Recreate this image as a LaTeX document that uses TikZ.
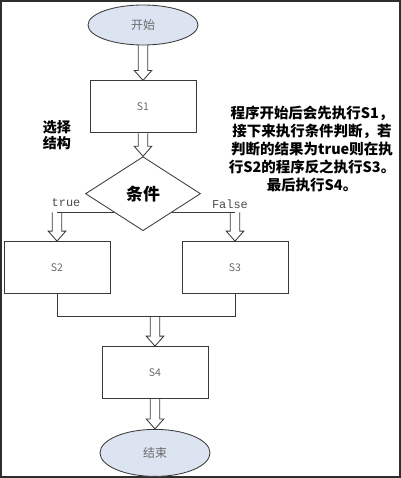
\documentclass[tikz,border=0pt]{standalone}
\usepackage{fontspec}
\usepackage{xcolor}
\usepackage{tikz}
\usetikzlibrary{shapes.geometric,positioning,calc}
\newfontfamily\cjk{Noto Sans CJK SC}
\newfontfamily\mono{Liberation Mono}
\definecolor{FrameGray}{HTML}{2E2E2E}
\definecolor{LineGray}{HTML}{3A3A3A}
\definecolor{SoftLilac}{HTML}{DCE3F1}
\definecolor{TextGray}{HTML}{6A6A6A}
\tikzset{
  % Terminal (start / end)
  TE/.style={ellipse,draw=LineGray,fill=SoftLilac,line width=0.6pt,
             minimum width=2.75cm,minimum height=1.0cm,inner sep=0pt,
             font=\cjk\fontsize{8.5}{10}\selectfont,text=TextGray},
  % Process box
  PB/.style={rectangle,draw=LineGray,line width=0.6pt,
             minimum width=2.65cm,minimum height=1.3cm,inner sep=0pt,
             font=\cjk\fontsize{7.5}{9}\selectfont,text=TextGray},
  % Decision
  DM/.style={diamond,draw=LineGray,line width=0.6pt,
             minimum width=2.875cm,minimum height=1.85cm,inner sep=0pt,
             font=\cjk\bfseries\fontsize{12}{14}\selectfont},
  % Plain connector
  ln/.style={draw=LineGray,line width=0.6pt},
  % Hollow block arrow
  blk/.style={draw=LineGray,line width=0.6pt,line join=miter},
  % Branch labels
  LB/.style={font=\mono\fontsize{8.5}{10}\selectfont,text=TextGray!70!black},
  % Notes
  NT/.style={font=\cjk\bfseries\fontsize{10.3}{12.8}\selectfont,align=center,inner sep=0pt}
}
% hollow arrow pointing down: from #1 to #2
\newcommand{\blockarrow}[2]{%
  \draw[blk] ($(#1)+(-0.12,0)$) -- ($(#2)+(-0.12,0.25)$) -- ($(#2)+(-0.22,0.25)$)
    -- (#2) -- ($(#2)+(0.22,0.25)$) -- ($(#2)+(0.12,0.25)$) -- ($(#1)+(0.12,0)$);}

\begin{document}
\begin{tikzpicture}
  \useasboundingbox (0,0) rectangle (10.025,-11.95);
  \draw[FrameGray,line width=1.2pt] (0.03,-0.03) rectangle (9.995,-11.92);

  \node[TE] at (3.575,-0.625)              (start) {开始};
  \node[PB,below=0.875cm of start]         (S1)    {S1};
  \node[DM,below=0.575cm of S1]            (cond)  {条件};

  % --- branches ---
  \node[PB,below=0.25cm of cond,xshift=-2.15cm] (S2) {S2};
  \node[PB,below=0.25cm of cond,xshift=2.3cm]   (S3) {S3};
  \node[PB,below=2.875cm of cond,xshift=0.3cm]  (S4) {S4};
  \node[TE,minimum height=1.175cm,below=0.75cm of S4] (stop) {结束};

  % --- labels ---
  \node[LB] (lt) at ($(cond.south west)+(-1.2,0.25)$) {true};
  \node[LB] (lf) at ($(cond.south east)+(1.45,0.21)$) {False};
  \node[NT,align=left,font=\cjk\bfseries\fontsize{10}{11.2}\selectfont] (sel) at (1.425,-3.375) {选择\\结构};
  \node[NT] (desc) at (7.8,-3.725)
    {程序开始后会先执行S1，\\接下来执行条件判断，若\\判断的结果为true则在执\\行S2的程序反之执行S3。\\最后执行S4。};

  % --- connectors ---
  \coordinate (tT) at (cond.south west -| S2.north);
  \coordinate (tF) at (cond.south east -| S3.north);
  \coordinate (mj) at ($(S2.south)+(0,-0.55)$);
  \coordinate (mS) at (mj -| S4.north);

  \blockarrow{start.south}{S1.north}
  \blockarrow{S1.south}{cond.north}
  \draw[ln] (cond.south west) -- (tT);
  \draw[ln] (cond.south east) -- (tF);
  \blockarrow{tT}{S2.north}
  \blockarrow{tF}{S3.north}
  \draw[ln] (S2.south) -- (mj) -| (S3.south);
  \blockarrow{mS}{S4.north}
  \blockarrow{S4.south}{stop.north}
\end{tikzpicture}
\end{document}
